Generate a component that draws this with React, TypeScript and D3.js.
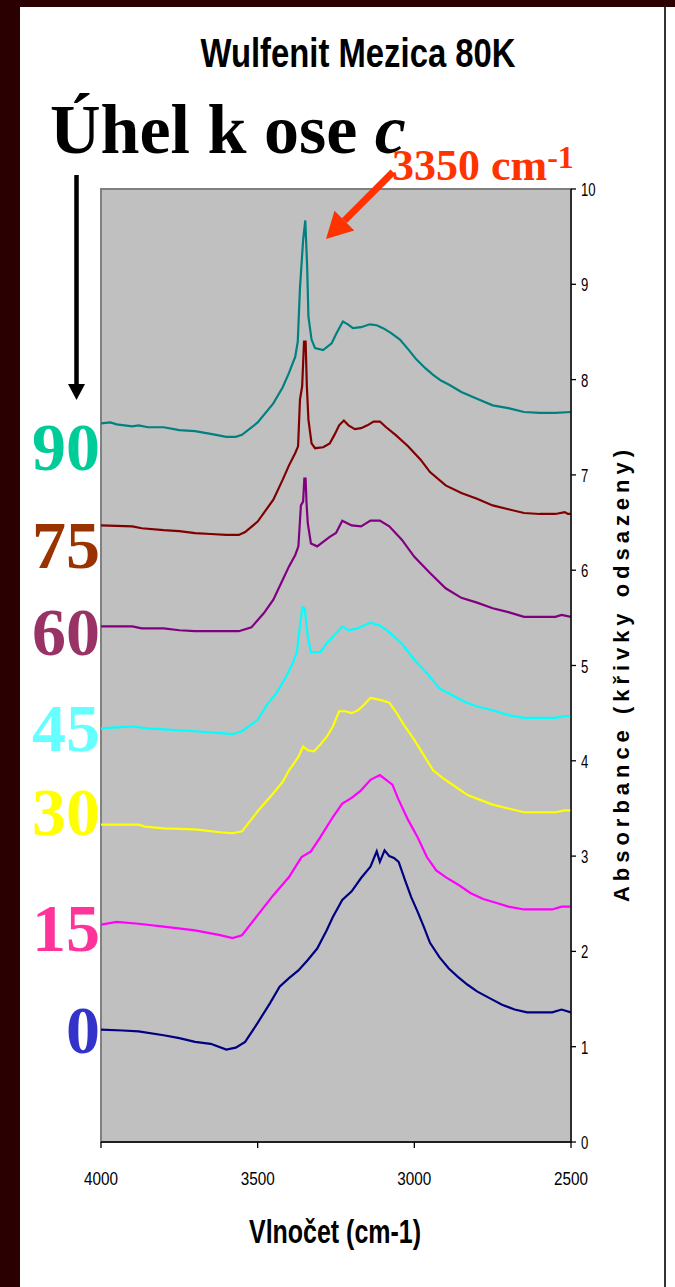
import React from "react";
import * as d3 from "d3";

// spectra: [wavenumber cm-1, absorbance (offset)]
const s90: [number, number][] = [
  [4000, 7.54], [3970, 7.55], [3950, 7.53], [3900, 7.51], [3880, 7.52], [3850, 7.5], [3800, 7.5],
  [3750, 7.47], [3700, 7.46], [3650, 7.43], [3600, 7.4], [3570, 7.4], [3550, 7.42], [3500, 7.55],
  [3450, 7.75], [3420, 7.92], [3400, 8.07], [3380, 8.24], [3372, 8.4], [3365, 8.96], [3355, 9.46],
  [3348, 9.67], [3342, 9.18], [3338, 8.66], [3328, 8.42], [3317, 8.33], [3291, 8.31], [3264, 8.38],
  [3248, 8.49], [3228, 8.61], [3212, 8.58], [3196, 8.54], [3170, 8.55], [3142, 8.58], [3120, 8.57],
  [3100, 8.54], [3075, 8.49], [3046, 8.42], [3020, 8.32], [2993, 8.21], [2965, 8.12], [2940, 8.05],
  [2915, 7.99], [2886, 7.94], [2850, 7.87], [2800, 7.8], [2750, 7.73], [2700, 7.7], [2650, 7.66],
  [2600, 7.65], [2550, 7.65], [2500, 7.66],
];
const s75: [number, number][] = [
  [4000, 6.47], [3900, 6.46], [3870, 6.44], [3800, 6.42], [3750, 6.41], [3700, 6.39], [3650, 6.38],
  [3600, 6.37], [3560, 6.37], [3540, 6.4], [3500, 6.51], [3450, 6.74], [3420, 6.95], [3400, 7.1],
  [3380, 7.23], [3371, 7.3], [3365, 7.79], [3358, 7.93], [3352, 8.4], [3347, 8.4], [3343, 7.93],
  [3338, 7.58], [3328, 7.33], [3317, 7.28], [3291, 7.29], [3270, 7.33], [3255, 7.42], [3240, 7.52],
  [3225, 7.57], [3210, 7.52], [3190, 7.48], [3170, 7.49], [3150, 7.52], [3130, 7.56], [3110, 7.56],
  [3090, 7.5], [3060, 7.42], [3020, 7.3], [2980, 7.16], [2950, 7.03], [2900, 6.89], [2850, 6.81],
  [2800, 6.75], [2750, 6.68], [2700, 6.64], [2650, 6.6], [2600, 6.59], [2550, 6.59], [2520, 6.61],
  [2510, 6.59], [2500, 6.59],
];
const s60: [number, number][] = [
  [4000, 5.41], [3900, 5.41], [3870, 5.39], [3800, 5.39], [3750, 5.37], [3700, 5.36], [3600, 5.36],
  [3560, 5.36], [3520, 5.4], [3480, 5.55], [3450, 5.69], [3420, 5.9], [3400, 6.04], [3380, 6.16],
  [3370, 6.25], [3362, 6.68], [3355, 6.72], [3351, 6.96], [3347, 6.96], [3344, 6.7], [3340, 6.49],
  [3330, 6.28], [3310, 6.25], [3290, 6.3], [3270, 6.35], [3250, 6.39], [3230, 6.52], [3200, 6.47],
  [3170, 6.46], [3140, 6.52], [3110, 6.52], [3080, 6.46], [3040, 6.32], [3000, 6.14], [2950, 5.97],
  [2900, 5.81], [2850, 5.71], [2800, 5.66], [2750, 5.6], [2700, 5.56], [2650, 5.51], [2600, 5.51],
  [2550, 5.51], [2530, 5.53], [2500, 5.51],
];
const s45: [number, number][] = [
  [4000, 4.34], [3950, 4.35], [3900, 4.36], [3850, 4.34], [3800, 4.33], [3700, 4.31], [3620, 4.29],
  [3580, 4.28], [3550, 4.31], [3500, 4.43], [3470, 4.59], [3440, 4.71], [3410, 4.88], [3390, 5.01],
  [3375, 5.14], [3365, 5.42], [3357, 5.61], [3350, 5.6], [3345, 5.45], [3340, 5.3], [3330, 5.14],
  [3300, 5.14], [3280, 5.23], [3255, 5.32], [3230, 5.41], [3210, 5.37], [3180, 5.39], [3140, 5.45],
  [3110, 5.42], [3080, 5.35], [3040, 5.23], [3000, 5.06], [2960, 4.92], [2920, 4.76], [2880, 4.69],
  [2840, 4.62], [2800, 4.57], [2750, 4.53], [2700, 4.48], [2650, 4.45], [2600, 4.45], [2550, 4.45],
  [2520, 4.47], [2500, 4.47],
];
const s30: [number, number][] = [
  [4000, 3.33], [3880, 3.33], [3860, 3.31], [3800, 3.29], [3700, 3.28], [3620, 3.25], [3580, 3.24],
  [3550, 3.26], [3500, 3.47], [3450, 3.66], [3420, 3.78], [3400, 3.9], [3370, 4.04], [3355, 4.15],
  [3340, 4.11], [3320, 4.1], [3300, 4.17], [3280, 4.25], [3260, 4.36], [3240, 4.52], [3220, 4.52],
  [3200, 4.5], [3180, 4.53], [3160, 4.59], [3140, 4.66], [3110, 4.64], [3080, 4.61], [3060, 4.52],
  [3030, 4.36], [3000, 4.22], [2970, 4.06], [2940, 3.9], [2910, 3.82], [2870, 3.73], [2830, 3.64],
  [2790, 3.59], [2750, 3.54], [2700, 3.5], [2650, 3.46], [2600, 3.46], [2550, 3.46], [2520, 3.48],
  [2500, 3.48],
];
const s15: [number, number][] = [
  [4000, 2.28], [3950, 2.31], [3880, 2.29], [3800, 2.26], [3700, 2.22], [3620, 2.17], [3580, 2.14],
  [3550, 2.17], [3500, 2.38], [3450, 2.59], [3400, 2.78], [3360, 2.99], [3330, 3.05], [3300, 3.2],
  [3260, 3.41], [3230, 3.55], [3200, 3.61], [3170, 3.69], [3140, 3.8], [3110, 3.85], [3090, 3.8],
  [3070, 3.75], [3050, 3.59], [3020, 3.38], [2990, 3.2], [2960, 2.99], [2930, 2.85], [2900, 2.78],
  [2860, 2.7], [2820, 2.61], [2780, 2.55], [2740, 2.51], [2700, 2.47], [2650, 2.44], [2600, 2.44],
  [2560, 2.44], [2530, 2.47], [2500, 2.47],
];
const s0: [number, number][] = [
  [4000, 1.18], [3930, 1.17], [3880, 1.16], [3800, 1.12], [3750, 1.09], [3700, 1.05], [3650, 1.03],
  [3600, 0.97], [3570, 0.99], [3540, 1.05], [3500, 1.25], [3460, 1.46], [3430, 1.63], [3400, 1.72],
  [3370, 1.8], [3340, 1.91], [3310, 2.03], [3280, 2.22], [3260, 2.36], [3230, 2.54], [3200, 2.63],
  [3170, 2.77], [3140, 2.89], [3120, 3.05], [3110, 2.94], [3095, 3.06], [3080, 3.0], [3065, 2.98],
  [3050, 2.94], [3030, 2.75], [3010, 2.57], [2990, 2.42], [2970, 2.26], [2950, 2.09], [2920, 1.94],
  [2890, 1.82], [2860, 1.73], [2830, 1.65], [2800, 1.58], [2760, 1.51], [2720, 1.44], [2680, 1.39],
  [2640, 1.36], [2600, 1.36], [2560, 1.36], [2530, 1.39], [2500, 1.36],
];

const angles = ["90", "75", "60", "45", "30", "15", "0"];
const spectra = [s90, s75, s60, s45, s30, s15, s0];
const lineColors = ["#008080", "#800000", "#800080", "#00FFFF", "#FFFF00", "#FF00FF", "#000080"];
const labelColors = ["#00CC99", "#993300", "#993366", "#66FFFF", "#FFFF00", "#FF3399", "#3333CC"];
const labelBaselines = [470, 568, 655, 751, 835, 951, 1053];

const xTicks = [4000, 3500, 3000, 2500];

const W = 675;
const H = 1287;
const plot = { left: 101, right: 571, top: 189, bottom: 1142 };
const sans = "'Liberation Sans', Arial, sans-serif";
const serif = "'Liberation Serif', 'Times New Roman', serif";

export default function App() {
  const x = d3.scaleLinear().domain([4000, 2500]).range([plot.left, plot.right]);
  const y = d3.scaleLinear().domain([0, 10]).range([plot.bottom, plot.top]);
  const line = d3
    .line<[number, number]>()
    .x((d) => x(d[0]))
    .y((d) => y(d[1]));
  const yTicks = y.ticks(10);

  // red arrow pointing at the 3350 peak
  const tail = [393, 172];
  const tip = [326, 239];
  const len = Math.hypot(tip[0] - tail[0], tip[1] - tail[1]);
  const ux = (tip[0] - tail[0]) / len;
  const uy = (tip[1] - tail[1]) / len;
  const base = [tip[0] - 26 * ux, tip[1] - 26 * uy];
  const head = [
    [tip[0], tip[1]],
    [base[0] - 14 * uy, base[1] + 14 * ux],
    [base[0] + 14 * uy, base[1] - 14 * ux],
  ];

  return (
    <svg width={W} height={H} style={{ position: "absolute", left: 0, top: 0, display: "block" }}>
      <defs>
        <clipPath id="plotClip">
          <rect x={plot.left} y={plot.top} width={plot.right - plot.left} height={plot.bottom - plot.top} />
        </clipPath>
      </defs>
      <rect width={W} height={H} fill="#2a0000" />
      <rect x={20} y={7} width={W - 20} height={H - 7} fill="#ffffff" />
      <line x1={665} x2={665} y1={7} y2={H} stroke="#333" strokeWidth={2} />

      <text
        x={358}
        y={67}
        textAnchor="middle"
        fontFamily={sans}
        fontWeight="bold"
        fontSize={41}
        textLength={315}
        lengthAdjust="spacingAndGlyphs"
      >
        Wulfenit Mezica 80K
      </text>

      <text x={50} y={153} fontFamily={serif} fontWeight="bold" fontSize={70}>
        Úhel k ose <tspan fontStyle="italic">c</tspan>
      </text>

      {/* black arrow down the angle labels */}
      <line x1={76.5} x2={76.5} y1={175} y2={386} stroke="#000" strokeWidth={4.5} />
      <polygon points="68,384 85,384 76.5,400" fill="#000" />

      {/* plot area */}
      <rect
        x={plot.left}
        y={plot.top}
        width={plot.right - plot.left}
        height={plot.bottom - plot.top}
        fill="#C0C0C0"
        stroke="#808080"
        strokeWidth={2}
      />

      <g clipPath="url(#plotClip)">
        {spectra.map((s, i) => (
          <path key={angles[i]} d={line(s) || ""} fill="none" stroke={lineColors[i]} strokeWidth={2.2} />
        ))}
      </g>

      {/* right value axis */}
      <line x1={plot.right} x2={plot.right} y1={plot.top} y2={plot.bottom} stroke="#000" strokeWidth={1.3} />
      {yTicks.map((t) => (
        <g key={t}>
          <line x1={plot.right} x2={plot.right + 5} y1={y(t)} y2={y(t)} stroke="#000" strokeWidth={1.3} />
          <text
            x={581}
            y={y(t) + 7}
            fontFamily={sans}
            fontSize={18}
            textLength={String(t).length * 7.3}
            lengthAdjust="spacingAndGlyphs"
          >
            {t}
          </text>
        </g>
      ))}

      {/* bottom wavenumber axis */}
      <line x1={plot.left} x2={plot.right} y1={plot.bottom} y2={plot.bottom} stroke="#000" strokeWidth={1.3} />
      {xTicks.map((t) => (
        <g key={t}>
          <line x1={x(t)} x2={x(t)} y1={plot.bottom} y2={plot.bottom + 6} stroke="#000" strokeWidth={1.3} />
          <text
            x={x(t)}
            y={1185}
            textAnchor="middle"
            fontFamily={sans}
            fontSize={18}
            textLength={34}
            lengthAdjust="spacingAndGlyphs"
          >
            {t}
          </text>
        </g>
      ))}

      <text
        x={335}
        y={1243}
        textAnchor="middle"
        fontFamily={sans}
        fontWeight="bold"
        fontSize={34}
        textLength={172}
        lengthAdjust="spacingAndGlyphs"
      >
        Vlnočet (cm-1)
      </text>

      <text
        transform="translate(629,676) rotate(-90)"
        textAnchor="middle"
        fontFamily={sans}
        fontWeight="bold"
        fontSize={22}
        textLength={452}
        lengthAdjust="spacing"
      >
        Absorbance (křivky odsazeny)
      </text>

      {/* angle labels */}
      {angles.map((a, i) => (
        <text
          key={a}
          x={100}
          y={labelBaselines[i]}
          textAnchor="end"
          fontFamily={serif}
          fontWeight="bold"
          fontSize={68}
          fill={labelColors[i]}
        >
          {a}
        </text>
      ))}

      {/* peak annotation */}
      <text x={392} y={180} fontFamily={serif} fontWeight="bold" fontSize={44} fill="#FF3300">
        3350 cm
        <tspan fontSize={32} dy={-12}>
          -1
        </tspan>
      </text>
      <line x1={tail[0]} y1={tail[1]} x2={base[0]} y2={base[1]} stroke="#FF3300" strokeWidth={7} />
      <polygon points={head.map((p) => p.join(",")).join(" ")} fill="#FF3300" />
    </svg>
  );
}
